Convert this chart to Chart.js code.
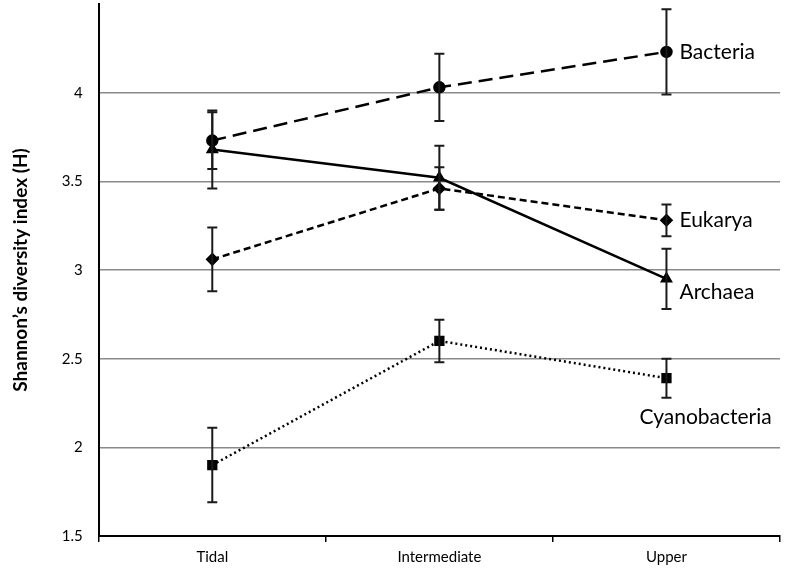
<!DOCTYPE html>
<html>
<head>
<meta charset="utf-8">
<script src="https://cdn.jsdelivr.net/npm/chart.js@4"></script>
<style>
  html, body { margin: 0; padding: 0; background: #fff; }
  #wrap { width: 785px; height: 576px; }
</style>
</head>
<body>
<div id="wrap"><canvas id="chart"></canvas></div>
<script>
// --- data ---
const sites = ["Tidal", "Intermediate", "Upper"];

const bacteria      = [3.73, 4.03, 4.23];
const bacteriaErr   = [0.16, 0.19, 0.24];
const archaea       = [3.68, 3.52, 2.95];
const archaeaErr    = [0.22, 0.18, 0.17];
const eukarya       = [3.06, 3.46, 3.28];
const eukaryaErr    = [0.18, 0.12, 0.09];
const cyano         = [1.90, 2.60, 2.39];
const cyanoErr      = [0.21, 0.12, 0.11];

const yTicks = [1.5, 2, 2.5, 3, 3.5, 4];

const FONT = "Lato, 'Open Sans', sans-serif";

function series(label, data, err, style, dash, labelDx, labelDy) {
    return {
        label, data, err, labelDx, labelDy,
        borderColor: "#000", backgroundColor: "#000",
        borderWidth: 2.5, borderDash: dash,
        pointStyle: style, pointRadius: style === "rect" ? 5.5 : 5,
        pointBackgroundColor: "#000", pointBorderColor: "#000",
        tension: 0, fill: false
    };
}

// error bars + end labels, drawn through the scales
const extras = {
    id: "extras",
    afterDatasetsDraw(chart) {
        const ctx = chart.ctx, x = chart.scales.x, y = chart.scales.y;
        ctx.save();
        ctx.strokeStyle = "#1a1a1a";
        ctx.lineWidth = 2;
        ctx.setLineDash([]);
        chart.data.datasets.forEach(ds => {
            ds.data.forEach((v, i) => {
                const px = x.getPixelForValue(i);
                const top = y.getPixelForValue(v + ds.err[i]);
                const bot = y.getPixelForValue(v - ds.err[i]);
                ctx.beginPath();
                ctx.moveTo(px, top); ctx.lineTo(px, bot);
                ctx.moveTo(px - 5, top); ctx.lineTo(px + 5, top);
                ctx.moveTo(px - 5, bot); ctx.lineTo(px + 5, bot);
                ctx.stroke();
            });
            const last = ds.data.length - 1;
            ctx.fillStyle = "#000";
            ctx.font = "21px " + FONT;
            ctx.textBaseline = "middle";
            ctx.fillText(ds.label, x.getPixelForValue(last) + ds.labelDx, y.getPixelForValue(ds.data[last]) + ds.labelDy);
        });
        ctx.restore();
    }
};

new Chart(document.getElementById("chart"), {
    type: "line",
    data: {
        labels: sites,
        datasets: [
            series("Bacteria", bacteria, bacteriaErr, "circle", [14, 7], 13, 0),
            series("Eukarya", eukarya, eukaryaErr, "rectRot", [7, 4], 13, 0),
            series("Archaea", archaea, archaeaErr, "triangle", [], 13, 13),
            series("Cyanobacteria", cyano, cyanoErr, "rect", [2, 3], -27, 39)
        ]
    },
    options: {
        responsive: true,
        maintainAspectRatio: false,
        animation: false,
        layout: { autoPadding: false, padding: { top: 4, right: 5, left: 4, bottom: 4 } },
        plugins: { legend: { display: false }, tooltip: { enabled: false } },
        scales: {
            x: {
                offset: true,
                grid: { offset: true, drawOnChartArea: false, drawTicks: true, tickLength: 6, color: "#000", lineWidth: 1.5 },
                border: { color: "#000", width: 2 },
                ticks: { color: "#000", font: { family: FONT, size: 15 }, padding: 6 }
            },
            y: {
                min: 1.5, max: 4.5,
                afterBuildTicks: axis => { axis.ticks = yTicks.concat([4.5]).map(v => ({ value: v })); },
                afterFit: axis => { axis.paddingTop = 0; },
                grid: {
                    color: ctx => ctx.tick && ctx.tick.value === 4.5 ? "rgba(0,0,0,0)" : "#8a8a8a",
                    lineWidth: 1.5, drawTicks: false
                },
                border: { color: "#000", width: 2 },
                ticks: {
                    color: "#000", font: { family: FONT, size: 15 }, padding: 16,
                    callback: v => v === 4.5 ? "" : String(v)
                },
                title: { display: true, text: "Shannon’s diversity index (H)", color: "#000", font: { family: FONT, size: 19, weight: "bold" }, padding: { top: 5, bottom: 14 } }
            }
        }
    },
    plugins: [extras]
});
</script>
</body>
</html>
